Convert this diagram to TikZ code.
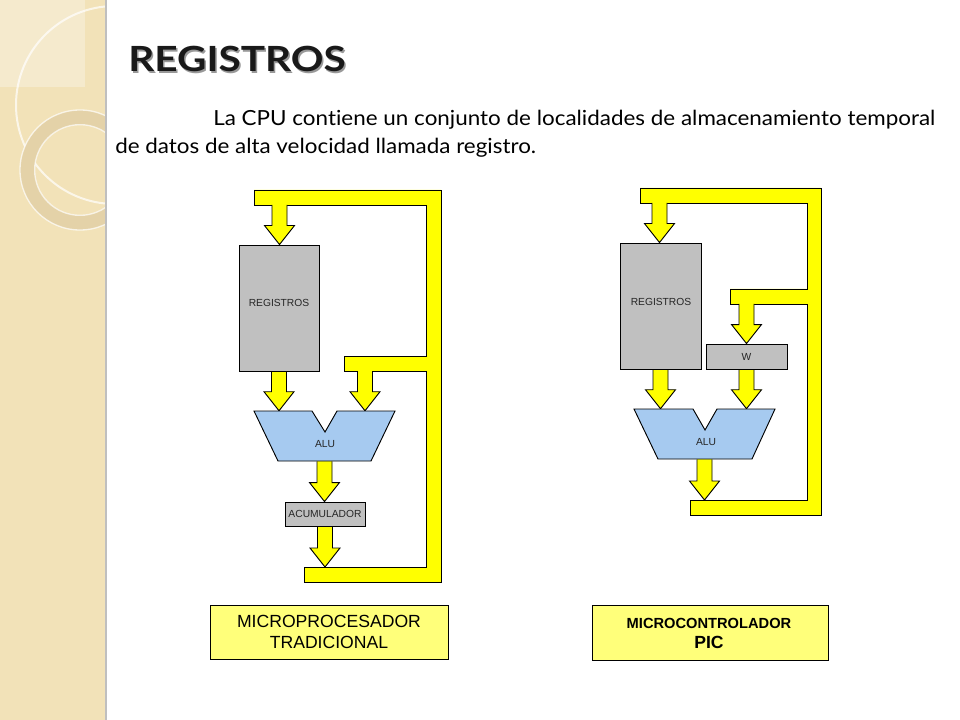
\documentclass[tikz,border=0pt]{standalone}
\usepackage{fontspec}
\setmainfont{Liberation Sans}
\newfontfamily\gill[Ligatures=NoCommon]{Lato}
\usetikzlibrary{fit,calc}
\definecolor{band}{HTML}{F2E2B8}
\definecolor{ringc}{HTML}{E4D2A8}
\definecolor{busyellow}{HTML}{FFFF00}
\definecolor{boxgray}{HTML}{C0C0C0}
\definecolor{alublue}{HTML}{A6CAF0}
\definecolor{labyellow}{HTML}{FFFF7A}
\pgfdeclarelayer{bg}
\pgfdeclarelayer{mid}
\pgfsetlayers{bg,mid,main}
\tikzset{
  outl/.style={draw=black, line width=0.7pt, line join=miter},
  busfill/.style={fill=busyellow},
  gbox/.style={draw=black, line width=0.7pt, fill=boxgray, inner sep=0pt},
  alushape/.style={draw=black, line width=0.7pt, fill=alublue, line join=miter},
  hidebox/.style={inner sep=0pt},
  tinytext/.style={font=\fontsize{7.7}{9}\selectfont, text=black!85, inner sep=0pt},
  labbox/.style={draw=black, line width=0.7pt, fill=labyellow, inner sep=0pt},
  labtext/.style={font=\fontsize{13.2}{15}\selectfont, inner sep=0pt, anchor=base},
}
% block arrow from a source point #1 down to tip #2
\newcommand\blockarrow[2]{%
  \fill[busfill] let \p1=#1, \p2=#2 in
    (\x2-5.625pt,\y1+1.2pt) -- (\x2-5.625pt,\y2+14.25pt) -- (\x2-11.25pt,\y2+14.25pt)
    -- (\x2,\y2) -- (\x2+11.25pt,\y2+14.25pt) -- (\x2+5.625pt,\y2+14.25pt)
    -- (\x2+5.625pt,\y1+1.2pt) -- cycle;
  \draw[outl] let \p1=#1, \p2=#2 in
    (\x2-5.625pt,\y1) -- (\x2-5.625pt,\y2+14.25pt) -- (\x2-11.25pt,\y2+14.25pt)
    -- (\x2,\y2) -- (\x2+11.25pt,\y2+14.25pt) -- (\x2+5.625pt,\y2+14.25pt)
    -- (\x2+5.625pt,\y1);
}
\begin{document}
\begin{tikzpicture}[x=0.75pt,y=-0.75pt]
\useasboundingbox (0,0) rectangle (960,720);
\begin{pgfonlayer}{bg}
\fill[white] (0,0) rectangle (960,720);
\fill[band] (0,0) rectangle (105,720);
\begin{scope}
  \clip (0,0) rectangle (105,720);
  \fill[white,opacity=0.3] (0,0) rectangle (85,87);
  \draw[white,opacity=0.7,line width=1.5pt] (115,105) circle (74.25pt);
  \draw[ringc,line width=11pt] (80,170) circle (39.4pt);
  \draw[white,opacity=0.7,line width=1pt] (80,170) circle (45pt);
  \draw[white,opacity=0.7,line width=1pt] (80,170) circle (34pt);
\end{scope}
\fill[black!25] (105,0) rectangle (107,720);
% buses
\filldraw[busfill, outl] (254,190) -- (441,190) -- (441,582) -- (304,582) -- (304,567)
  -- (426,567) -- (426,371) -- (344,371) -- (344,356) -- (426,356) -- (426,205)
  -- (254,205) -- cycle;
\filldraw[busfill, outl] (640,188) -- (821,188) -- (821,515) -- (690,515) -- (690,500)
  -- (807,500) -- (807,304) -- (730,304) -- (730,289) -- (807,289) -- (807,203)
  -- (640,203) -- cycle;
\end{pgfonlayer}

% title and text
\node[anchor=base west, inner sep=0pt, text=black!40] (titsh) at (129.5,73.5)
  {\scalebox{1.17}[1]{\gill\bfseries\fontsize{26}{30}\selectfont REGISTROS}};
\node[anchor=base west, inner sep=0pt, text=black!90] (title) at (128,72)
  {\scalebox{1.17}[1]{\gill\bfseries\fontsize{26}{30}\selectfont REGISTROS}};
\node[anchor=base west, inner sep=0pt] (par1) at (213,126)
  {\scalebox{1.077}[1]{\gill\fontsize{15.6}{20}\selectfont\makebox[502.8pt][s]{La CPU contiene un conjunto de localidades de almacenamiento temporal}}};
\node[anchor=base west, inner sep=0pt] (par2) at (115,154)
  {\scalebox{1.077}[1]{\gill\fontsize{15.6}{20}\selectfont de datos de alta velocidad llamada registro.}};

% ---------- left diagram ----------
\coordinate (b1top) at (279.5,205);
\coordinate (b1mid) at (365,371);
\coordinate (b1bot) at (325,567);
\node[gbox, fit={(239,245) (319,371)}] (reg1) {};
\node[tinytext] (reg1t) at (279,303) {REGISTROS};
\filldraw[alushape] (254,411) -- (312,411) -- (325,432) -- (337,411) -- (395,411)
  -- (371,461) -- (278,461) -- cycle;
\node[hidebox, fit={(254,411) (395,461)}] (alu1) {};
\node[tinytext] (alu1t) at (325,444) {ALU};
\node[gbox, fit={(285,502) (365,526)}] (acc1) {};
\node[tinytext] (acc1t) at (acc1.center) {ACUMULADOR};
\begin{pgfonlayer}{mid}
\blockarrow{(b1top)}{(b1top |- reg1.north)}
\blockarrow{(reg1.south)}{(reg1.south |- alu1.north)}
\blockarrow{(b1mid)}{(b1mid |- alu1.north)}
\blockarrow{(alu1.south)}{(alu1.south |- acc1.north)}
\blockarrow{(acc1.south)}{(acc1.south |- b1bot)}
\end{pgfonlayer}
\node[labbox, fit={(210,605) (448,659)}] (lab1) {};
\node[labtext] (lab1a) at (329,627) {MICROPROCESADOR};
\node[labtext] (lab1b) at (329,648) {TRADICIONAL};

% ---------- right diagram ----------
\coordinate (b2top) at (659.5,203);
\coordinate (b2mid) at (746.5,304);
\coordinate (b2bot) at (704.5,500);
\node[gbox, fit={(620,243) (701,369)}] (reg2) {};
\node[tinytext] (reg2t) at (661,302) {REGISTROS};
\node[gbox, fit={(706,344) (787,369)}] (w2) {};
\node[tinytext] (w2t) at (w2.center) {W};
\filldraw[alushape] (634,409) -- (693,409) -- (705,430) -- (717,409) -- (775,409)
  -- (752,459) -- (658,459) -- cycle;
\node[hidebox, fit={(634,409) (775,459)}] (alu2) {};
\node[tinytext] (alu2t) at (706,442) {ALU};
\begin{pgfonlayer}{mid}
\blockarrow{(b2top)}{(b2top |- reg2.north)}
\blockarrow{(b2mid)}{(b2mid |- w2.north)}
\blockarrow{(reg2.south)}{(reg2.south |- alu2.north)}
\blockarrow{(w2.south)}{(w2.south |- alu2.north)}
\blockarrow{(alu2.south)}{(alu2.south |- b2bot)}
\end{pgfonlayer}
\node[labbox, fit={(592,605) (828,660)}] (lab2) {};
\node[labtext, font=\fontsize{11}{13}\selectfont\bfseries] (lab2a) at (709,628) {MICROCONTROLADOR};
\node[labtext, font=\fontsize{13.2}{15}\selectfont\bfseries] (lab2b) at (709,648.5) {PIC};
\end{tikzpicture}
\end{document}
